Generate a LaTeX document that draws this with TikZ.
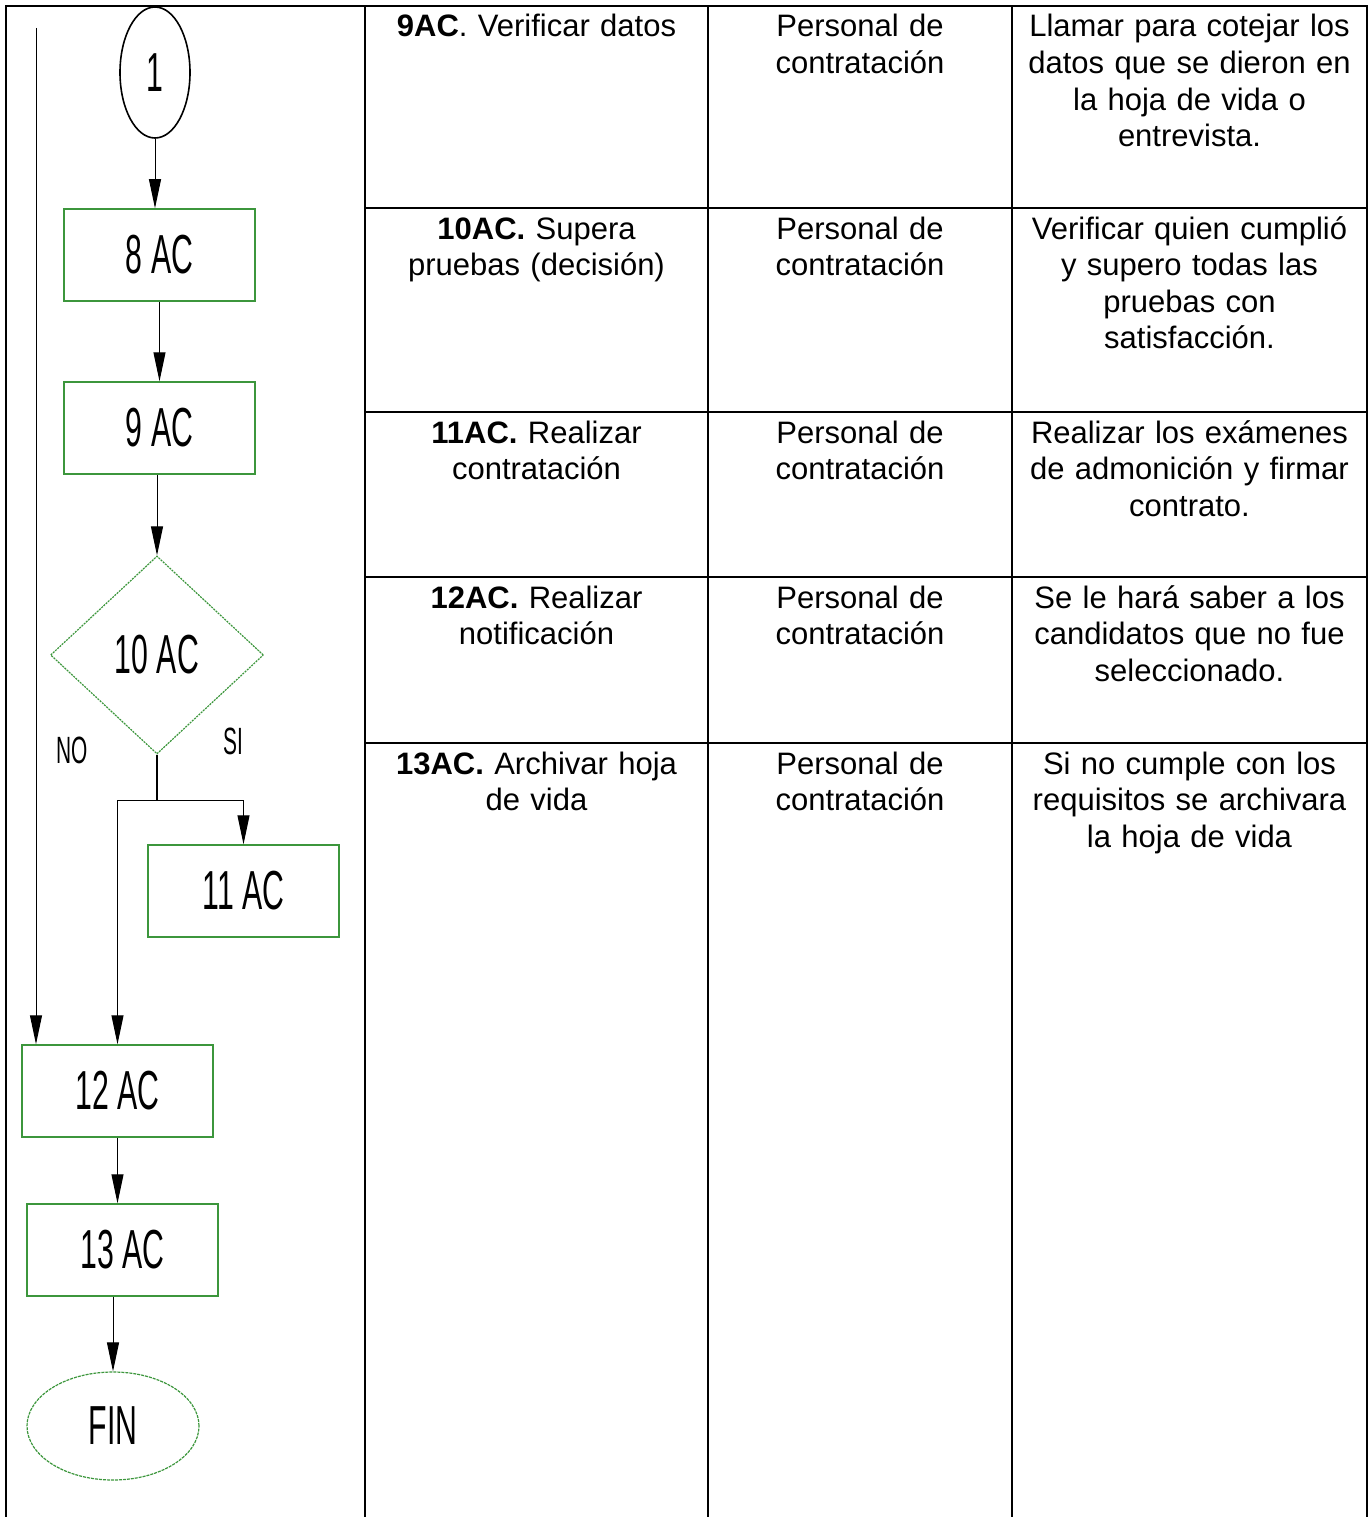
\documentclass[tikz,border=0pt]{standalone}
\usepackage{fontspec}
\setmainfont{Liberation Sans}
\newfontfamily\narrowfont[FakeStretch=0.55]{Liberation Sans}
\usetikzlibrary{arrows.meta,shapes.geometric,positioning}
\definecolor{FlowGreen}{HTML}{3C963C}
\tikzset{
    block/.style = {draw=FlowGreen, rectangle, line width=1.5pt,
        minimum height=92pt,
        minimum width=191pt,
        font=\narrowfont\fontsize{55}{60}\selectfont},
    decision/.style = {draw=FlowGreen, diamond, line width=1.2pt,
        dash pattern=on 2pt off 1pt, inner sep=0pt,
        minimum width=213pt, minimum height=198pt,
        font=\narrowfont\fontsize{55}{60}\selectfont},
    term/.style = {draw=FlowGreen, ellipse, line width=1.2pt,
        dash pattern=on 3pt off 1pt, inner sep=0pt,
        minimum width=172pt, minimum height=108pt,
        font=\narrowfont\fontsize{55}{60}\selectfont},
    startc/.style = {draw, ellipse, line width=1.6pt, inner sep=0pt,
        minimum width=70pt, minimum height=131pt,
        font=\narrowfont\fontsize{55}{60}\selectfont},
    lbl/.style = {inner sep=0pt, font=\narrowfont\fontsize{38}{40}\selectfont},
    arrow/.style = {draw, line width=1pt, -{Triangle[length=29pt,width=12pt]}},
    conn/.style = {draw, line width=1.2pt},
    grid/.style = {draw, line width=2.4pt},
    celltext/.style = {anchor=base, align=center, inner sep=0pt,
        font=\fontsize{31}{36.6}\selectfont}
}

\begin{document}
\begin{tikzpicture}[x=1pt,y=-1pt]
        \useasboundingbox (0,0) rectangle (1372,1517);
        % table
        \draw[grid] (6,1517) -- (6,6) -- (1367,6) -- (1367,1517);
        \foreach \x in {365,708,1012}{
            \draw[grid] (\x,6) -- (\x,1517);
        }
        \foreach \y in {208,412,577,743}{
            \draw[grid] (365,\y) -- (1367,\y);
        }
        \node[celltext, text width=330pt] (act1) at (536.5,37) {\textbf{9AC}. Verificar datos};
        \node[celltext, text width=330pt] (act2) at (536.5,239) {\textbf{10AC.} Supera\\pruebas (decisión)};
        \node[celltext, text width=330pt] (act3) at (536.5,443) {\textbf{11AC.} Realizar\\contratación};
        \node[celltext, text width=330pt] (act4) at (536.5,608) {\textbf{12AC.} Realizar\\notificación};
        \node[celltext, text width=330pt] (act5) at (536.5,774) {\textbf{13AC.} Archivar hoja\\de vida};
        \foreach \y [count=\i] in {37,239,443,608,774}{
            \node[celltext, text width=290pt] (resp\i) at (860,\y) {Personal de\\contratación};
        }
        \node[celltext, text width=345pt] (desc1) at (1189.5,37) {Llamar para cotejar los\\datos que se dieron en\\la hoja de vida o\\entrevista.};
        \node[celltext, text width=345pt] (desc2) at (1189.5,239) {Verificar quien cumplió\\y supero todas las\\pruebas con\\satisfacción.};
        \node[celltext, text width=345pt] (desc3) at (1189.5,443) {Realizar los exámenes\\de admonición y firmar\\contrato.};
        \node[celltext, text width=345pt] (desc4) at (1189.5,608) {Se le hará saber a los\\candidatos que no fue\\seleccionado.};
        \node[celltext, text width=345pt] (desc5) at (1189.5,774) {Si no cumple con los\\requisitos se archivara\\la hoja de vida};
        % flowchart
        \node[startc] (ini) at (155,72.5) {1};
        \node[block] (ac8) at (159.5,255) {8 AC};
        \node[block] (ac9) at (159.5,428) {9 AC};
        \node[decision] (ac10) at (157,655) {10 AC};
        \node[block] (ac11) at (243.5,891) {11 AC};
        \node[block] (ac12) at (117.5,1091) {12 AC};
        \node[block] (ac13) at (122.5,1250) {13 AC};
        \node[term] (fin) at (113,1426) {FIN};
        \node[lbl] (no) at (72,750) {NO};
        \node[lbl] (si) at (233,741) {SI};
        \coordinate (side) at (36,28);
        \coordinate (split) at (157,800);
        \draw[arrow] (ini.south) -- (ini.south |- ac8.north);
        \draw[arrow] (ac8.south) -- (ac9.north);
        \draw[arrow] (ac10.north |- ac9.south) -- (ac10.north);
        \draw[conn] (ac10.south) -- (split);
        \draw[arrow] (split) -| (ac11.north);
        \draw[arrow] (split) -| (ac12.north);
        \draw[arrow] (side) -- (side |- ac12.north);
        \draw[arrow] (ac12.south) -- (ac12.south |- ac13.north);
        \draw[arrow] (fin.north |- ac13.south) -- (fin.north);
\end{tikzpicture}
\end{document}
